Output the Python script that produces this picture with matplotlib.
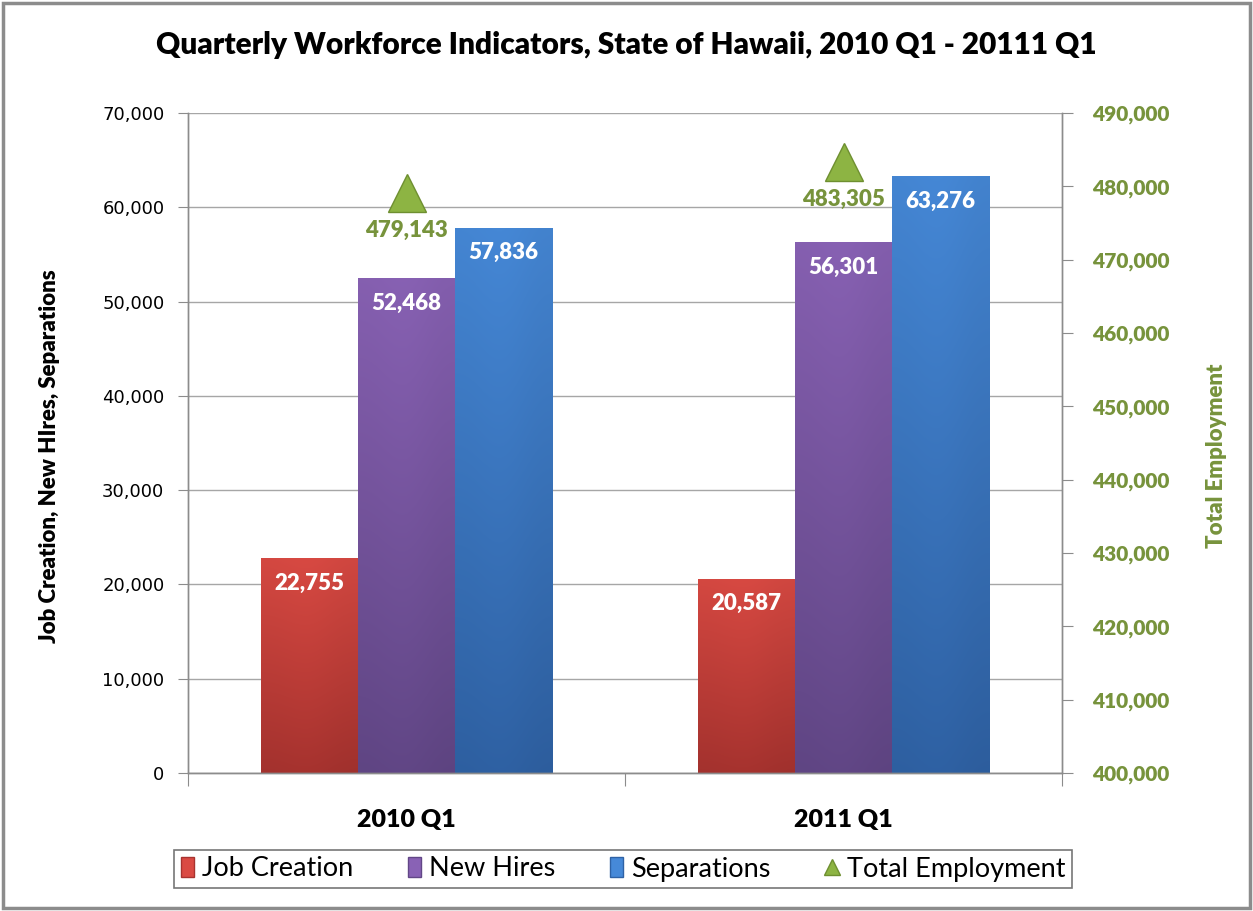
import matplotlib
matplotlib.use("Agg")
import matplotlib.pyplot as plt
import numpy as np
from matplotlib.patches import Rectangle
from matplotlib.lines import Line2D

categories = ["2010 Q1", "2011 Q1"]
job_creation = [22755, 20587]
new_hires = [52468, 56301]
separations = [57836, 63276]
total_employment = [479143, 483305]
series_names = ["Job Creation", "New Hires", "Separations", "Total Employment"]

title = "Quarterly Workforce Indicators, State of Hawaii, 2010 Q1 - 20111 Q1"
left_label = "Job Creation, New HIres, Separations"
right_label = "Total Employment"

plt.rcParams['font.family'] = ['Lato', 'DejaVu Sans']

W, H = 1253, 911
fig = plt.figure(figsize=(W / 100, H / 100), dpi=100)
ax = fig.add_axes([188 / W, 1 - 773 / H, (1062 - 188) / W, (773 - 113) / H])
ax2 = ax.twinx()

green = "#77933C"
grad = {
    "Job Creation": ("#DA4A43", "#A8332F"),
    "New Hires": ("#8962B5", "#624787"),
    "Separations": ("#4689D8", "#2F62A5"),
}

x = np.arange(len(categories))
bw = 1 / 4.5
series = [job_creation, new_hires, separations]
names = series_names[:3]

ax.set_xlim(-0.5, len(categories) - 0.5)
ax.set_ylim(0, 70000)
ax2.set_ylim(400000, 490000)

def gradient_bar(bar, c_top, c_bot):
    x0, y0 = bar.get_x(), bar.get_y()
    w, h = bar.get_width(), bar.get_height()
    from matplotlib.colors import to_rgb
    t = np.array(to_rgb(c_top)); b = np.array(to_rgb(c_bot))
    n = 256
    frac = np.linspace(0, 1, n)[:, None]
    col = b + (t - b) * frac
    img = np.repeat(col[:, None, :], 3, axis=1)
    shade = np.array([0.97, 1.0, 0.95])[None, :, None]
    img = np.clip(img * shade, 0, 1)
    im = ax.imshow(img, extent=[x0, x0 + w, y0, y0 + h], origin="lower",
                   aspect="auto", zorder=2, interpolation="bicubic")
    im.set_clip_path(bar)

for i, (vals, name) in enumerate(zip(series, names)):
    pos = x + (i - 1) * bw
    bars = ax.bar(pos, vals, width=bw, color=grad[name][0], zorder=2,
                  edgecolor=grad[name][1], linewidth=0.6)
    for b, v in zip(bars, vals):
        gradient_bar(b, *grad[name])
        ax.annotate(f"{v:,}", (b.get_x() + b.get_width() / 2, v),
                    xytext=(0, -18), textcoords="offset points",
                    ha="center", va="center", color="white",
                    fontsize=16, fontweight="heavy", zorder=5)

ax.set_xlim(-0.5, len(categories) - 0.5)

ax2.plot(x, total_employment, linestyle="none", marker="^", markersize=28,
         markerfacecolor="#8DB443", markeredgecolor="#6E8F30", markeredgewidth=1,
         zorder=5)
for xi, v in zip(x, total_employment):
    ax2.annotate(f"{v:,}", (xi, v), xytext=(0, -27), textcoords="offset points",
                 ha="center", va="center", color=green, fontsize=16,
                 fontweight="heavy")

# grid and axes styling
gray = "#8C8C8C"
fmt = matplotlib.ticker.FuncFormatter(lambda v, p: f"{int(v):,}")
ax.set_yticks(np.arange(0, 70001, 10000))
ax.yaxis.set_major_formatter(fmt)
ax.grid(axis="y", color="#A6A6A6", linewidth=1, zorder=0)
ax.set_axisbelow(True)
ax.set_xticks(np.arange(-0.5, len(categories)), minor=False)
ax.set_xticklabels([])
ax.set_xticks(x, minor=True)
ax.set_xticklabels(categories, minor=True, fontsize=18, fontweight="heavy")
ax.tick_params(axis="x", which="minor", length=0, pad=26)
ax.tick_params(axis="x", which="major", length=9, color=gray, direction="out")
ax.tick_params(axis="y", length=7, color=gray, labelsize=13, pad=10,
               labelfontfamily="DejaVu Sans")

ax2.set_yticks(np.arange(400000, 490001, 10000))
ax2.yaxis.set_major_formatter(fmt)
ax2.tick_params(axis="y", length=8, color=gray, labelsize=15, labelcolor=green, pad=14)
for lab in ax2.get_yticklabels():
    lab.set_fontweight("heavy")

for a in (ax, ax2):
    a.spines["top"].set_visible(False)
    for s in ("left", "right", "bottom"):
        a.spines[s].set_color(gray)
        a.spines[s].set_linewidth(1)

ax.set_ylabel(left_label, fontsize=16, fontweight="heavy", labelpad=0)
ax.yaxis.set_label_coords((60 - 188) / (1062 - 188), 0.48)
ax2.set_ylabel(right_label, fontsize=16, fontweight="heavy", color=green, rotation=90)
ax2.yaxis.set_label_coords((1206 - 188) / (1062 - 188), 0.48)

fig.text(0.5, 1 - 45 / H, title, ha="center", va="center", fontsize=21.5,
         fontweight="heavy")

# legend
handles = [
    Rectangle((0, 0), 1, 1, facecolor=grad["Job Creation"][0], edgecolor=grad["Job Creation"][1]),
    Rectangle((0, 0), 1, 1, facecolor=grad["New Hires"][0], edgecolor=grad["New Hires"][1]),
    Rectangle((0, 0), 1, 1, facecolor=grad["Separations"][0], edgecolor=grad["Separations"][1]),
    Line2D([0], [0], linestyle="none", marker="^", markersize=12,
           markerfacecolor="#8DB443", markeredgecolor="#6E8F30"),
]
leg = fig.legend(handles, series_names, loc="center",
                 bbox_to_anchor=((168 + 1078) / 2 / W, 1 - 869 / H),
                 ncol=4, fontsize=19.5, frameon=True, fancybox=False,
                 handlelength=0.5, handleheight=0.75, handletextpad=0.3,
                 columnspacing=2.0, borderpad=0.25, borderaxespad=0)
leg.get_frame().set_edgecolor("#555555")
leg.get_frame().set_linewidth(1.2)

fig.patches.append(Rectangle((0.002, 0.003), 0.996, 0.994, transform=fig.transFigure,
                             fill=False, edgecolor="#8C8C8C", linewidth=2.5))

fig.savefig("out.png", dpi=100)
